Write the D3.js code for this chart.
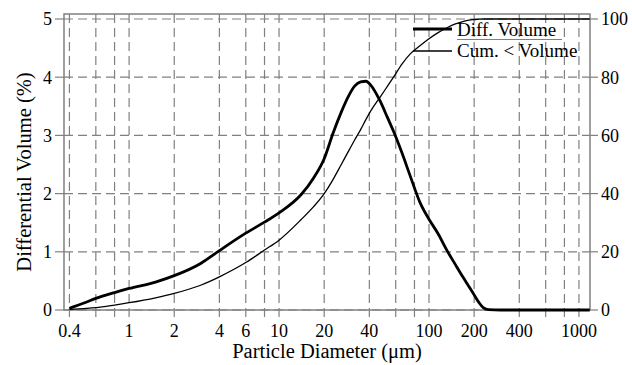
<!DOCTYPE html>
<html lang="en">
<head>
<meta charset="UTF-8">
<title>Particle Size Distribution</title>
<script src="https://d3js.org/d3.v7.min.js"></script>
<style>
    body { margin: 0; background: #fff; }
    svg { display: block; font-family: "Liberation Serif", "Times New Roman", serif; }
</style>
</head>
<body>
<div id="container"></div>
<script>
    // Data
    const diameters = [0.4, 0.5, 0.6, 0.8, 1, 1.5, 2, 3, 4, 6, 8, 10, 14, 17, 20, 23, 26, 29, 32, 35, 38, 41, 47, 53, 58, 66, 75, 87, 100, 115, 132, 150, 168, 185, 200, 215, 230, 250, 300, 400, 600, 1000, 1180];
    const diffVolume = [0.03, 0.12, 0.2, 0.3, 0.37, 0.48, 0.59, 0.8, 1.02, 1.32, 1.51, 1.67, 1.98, 2.27, 2.6, 3.05, 3.4, 3.67, 3.85, 3.92, 3.93, 3.86, 3.6, 3.3, 3.07, 2.7, 2.3, 1.85, 1.56, 1.31, 1.02, 0.78, 0.57, 0.4, 0.26, 0.13, 0.04, 0.005, 0, 0, 0, 0, 0];
    const cumVolume = [0.2, 0.5, 0.8, 1.7, 2.5, 4.2, 5.7, 8.5, 11.4, 16.3, 20.6, 24, 31, 35.5, 40, 45, 50, 54.5, 58.5, 62, 65.5, 68.5, 73, 77, 80, 84.5, 88, 90.8, 93.2, 95.3, 97, 98.3, 99.1, 99.6, 99.8, 99.95, 100, 100, 100, 100, 100, 100, 100];

    const gridX = [0.4, 0.6, 0.8, 1, 2, 4, 6, 8, 10, 20, 40, 60, 80, 100, 200, 400, 600, 800, 1000];
    const labelX = [0.4, 1, 2, 4, 6, 10, 20, 40, 100, 200, 400, 1000];
    const ticksLeft = [0, 1, 2, 3, 4, 5];
    const ticksRight = [0, 20, 40, 60, 80, 100];

    const width = 632, height = 365;
    const plotLeft = 64, plotRight = 590, plotTop = 14, plotBottom = 310;
    const gridColor = "#808080";

    const svg = d3.select("#container").append("svg")
        .attr("width", width)
        .attr("height", height);

    const x = d3.scaleLog().domain([0.368, 1185]).range([plotLeft, plotRight]);
    const y = d3.scaleLinear().domain([0, 5]).range([plotBottom, 19]);
    const y2 = d3.scaleLinear().domain([0, 100]).range([plotBottom, 19]);

    // Grid lines (dashed)
    svg.append("g").selectAll("line").data(gridX).join("line")
        .attr("x1", d => x(d)).attr("x2", d => x(d))
        .attr("y1", plotTop).attr("y2", plotBottom)
        .attr("stroke", gridColor).attr("stroke-width", 1.2)
        .attr("stroke-dasharray", "9,5");

    svg.append("g").selectAll("line").data(ticksLeft).join("line")
        .attr("x1", plotLeft).attr("x2", plotRight)
        .attr("y1", d => y(d)).attr("y2", d => y(d))
        .attr("stroke", gridColor).attr("stroke-width", 1.2)
        .attr("stroke-dasharray", "9,5");

    // tick stubs outside the frame
    svg.append("g").selectAll("line").data(gridX).join("line")
        .attr("x1", d => x(d)).attr("x2", d => x(d))
        .attr("y1", plotBottom).attr("y2", plotBottom + 7)
        .attr("stroke", gridColor).attr("stroke-width", 1.2);
    svg.append("g").selectAll("line").data(ticksLeft).join("line")
        .attr("x1", plotLeft - 9).attr("x2", plotLeft)
        .attr("y1", d => y(d)).attr("y2", d => y(d))
        .attr("stroke", gridColor).attr("stroke-width", 1.2);
    svg.append("g").selectAll("line").data(ticksRight).join("line")
        .attr("x1", plotRight).attr("x2", plotRight + 8)
        .attr("y1", d => y2(d)).attr("y2", d => y2(d))
        .attr("stroke", gridColor).attr("stroke-width", 1.2);

    // Frame
    svg.append("rect")
        .attr("x", plotLeft).attr("y", plotTop)
        .attr("width", plotRight - plotLeft).attr("height", plotBottom - plotTop)
        .attr("fill", "none").attr("stroke", gridColor).attr("stroke-width", 1.5);

    // Tick labels
    svg.append("g").selectAll("text").data(labelX).join("text")
        .attr("x", d => x(d)).attr("y", 337)
        .attr("text-anchor", "middle")
        .attr("font-size", 18)
        .text(d => d);

    svg.append("g").selectAll("text").data(ticksLeft).join("text")
        .attr("x", 52).attr("y", d => y(d)).attr("dy", "0.35em")
        .attr("text-anchor", "end")
        .attr("font-size", 18)
        .text(d => d);

    svg.append("g").selectAll("text").data(ticksRight).join("text")
        .attr("x", 601).attr("y", d => y2(d)).attr("dy", "0.35em")
        .attr("font-size", 18)
        .text(d => d);

    // Axis titles
    svg.append("text")
        .attr("x", 327).attr("y", 358)
        .attr("text-anchor", "middle")
        .attr("font-size", 20.5)
        .text("Particle Diameter (\u03bcm)");

    svg.append("text")
        .attr("transform", "translate(31,172) rotate(-90)")
        .attr("text-anchor", "middle")
        .attr("font-size", 20.5)
        .text("Differential Volume (%)");

    // Curves
    const points = diameters.map((d, i) => ({ d, diff: diffVolume[i], cum: cumVolume[i] }));

    svg.append("path")
        .datum(points)
        .attr("fill", "none").attr("stroke", "#000").attr("stroke-width", 1.3)
        .attr("d", d3.line().x(p => x(p.d)).y(p => y2(p.cum)).curve(d3.curveMonotoneX));

    svg.append("path")
        .datum(points)
        .attr("fill", "none").attr("stroke", "#000").attr("stroke-width", 2.8)
        .attr("stroke-linejoin", "round")
        .attr("d", d3.line().x(p => x(p.d)).y(p => y(p.diff)).curve(d3.curveMonotoneX));

    // Legend
    const legend = svg.append("g");
    legend.append("line").attr("x1", 413).attr("x2", 452).attr("y1", 29).attr("y2", 29)
        .attr("stroke", "#000").attr("stroke-width", 2.8);
    legend.append("line").attr("x1", 413).attr("x2", 452).attr("y1", 51).attr("y2", 51)
        .attr("stroke", "#000").attr("stroke-width", 1.3);
    legend.append("line").attr("x1", 457).attr("x2", 562).attr("y1", 39.5).attr("y2", 39.5)
        .attr("stroke", gridColor).attr("stroke-width", 1);
    legend.append("text").attr("x", 457).attr("y", 36).attr("font-size", 19).text("Diff. Volume");
    legend.append("text").attr("x", 457).attr("y", 57).attr("font-size", 19).text("Cum. < Volume");
</script>
</body>
</html>
